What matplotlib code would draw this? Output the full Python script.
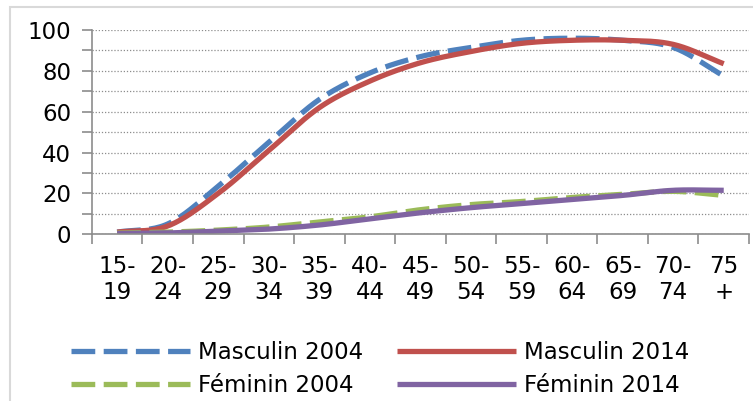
import numpy as np
import matplotlib
matplotlib.use("Agg")
import matplotlib.pyplot as plt
from matplotlib.ticker import MultipleLocator

categories = ["15-\n19", "20-\n24", "25-\n29", "30-\n34", "35-\n39", "40-\n44", "45-\n49",
              "50-\n54", "55-\n59", "60-\n64", "65-\n69", "70-\n74", "75\n+"]
masculin_2004 = [1, 5, 23.5, 45, 66, 79, 87, 91.5, 95, 96, 95, 91.5, 77.5]
masculin_2014 = [1, 4, 20, 41, 62, 75, 84, 89.5, 93.5, 95, 95, 93, 83.5]
feminin_2004 = [0.5, 1, 2, 3.5, 6, 8.5, 12, 14.5, 16, 18, 19.5, 21, 19]
feminin_2014 = [0.3, 0.6, 1.5, 2.5, 4.5, 7.5, 10.5, 13, 15, 17, 19, 21.5, 21.5]


def smooth(y, n=20):
    # Catmull-Rom curve through the points, like Excel's smoothed lines
    y = np.asarray(y, dtype=float)
    x = np.arange(len(y), dtype=float)
    px = np.concatenate([[2 * x[0] - x[1]], x, [2 * x[-1] - x[-2]]])
    py = np.concatenate([[2 * y[0] - y[1]], y, [2 * y[-1] - y[-2]]])
    xs, ys = [], []
    t = np.linspace(0, 1, n, endpoint=False)
    for i in range(1, len(px) - 2):
        for arr, out in ((px, xs), (py, ys)):
            p0, p1, p2, p3 = arr[i - 1], arr[i], arr[i + 1], arr[i + 2]
            out.extend(0.5 * (2 * p1 + (-p0 + p2) * t + (2 * p0 - 5 * p1 + 4 * p2 - p3) * t ** 2
                              + (-p0 + 3 * p1 - 3 * p2 + p3) * t ** 3))
    xs.append(x[-1])
    ys.append(y[-1])
    return np.array(xs), np.array(ys)


fig = plt.figure(figsize=(7.53, 4.01), dpi=100)
ax = fig.add_axes([0.122, 0.416, 0.8727, 0.509])

dash = (0, (4.5, 1.6))
series = [
    (masculin_2004, "Masculin 2004", "#4F81BD", dash),
    (masculin_2014, "Masculin 2014", "#C0504D", "-"),
    (feminin_2004, "Féminin 2004", "#9BBB59", dash),
    (feminin_2014, "Féminin 2014", "#8064A2", "-"),
]
lines = {}
for vals, label, color, ls in series:
    sx, sy = smooth(vals)
    lines[label], = ax.plot(sx, sy, color=color, linestyle=ls, linewidth=3.8, label=label,
                            solid_capstyle="butt", dash_capstyle="butt")

ax.set_xlim(-0.5, len(categories) - 0.5)
ax.set_ylim(0, 100)
ax.yaxis.set_major_locator(MultipleLocator(20))
ax.yaxis.set_minor_locator(MultipleLocator(10))
ax.grid(True, which="both", axis="y", color="#8c8c8c", linestyle=(0, (1, 1.5)), linewidth=0.9)
ax.set_axisbelow(True)

ax.set_xticks(np.arange(len(categories)))
ax.set_xticklabels(categories, fontsize=16.5, linespacing=1.15)
ax.set_xticks(np.arange(len(categories) + 1) - 0.5, minor=True)
ax.tick_params(axis="x", which="major", length=0, pad=15)
ax.tick_params(axis="x", which="minor", length=7, color="#8c8c8c", width=1.2)
ax.tick_params(axis="y", which="both", length=7, color="#8c8c8c", width=1.2, labelsize=16.5, pad=8)

for side in ("top", "right"):
    ax.spines[side].set_visible(False)
for side in ("left", "bottom"):
    ax.spines[side].set_color("#8c8c8c")
    ax.spines[side].set_linewidth(1.2)

# Excel fills the legend row by row
order = ["Masculin 2004", "Féminin 2004", "Masculin 2014", "Féminin 2014"]
fig.legend([lines[k] for k in order], order, loc="lower center", bbox_to_anchor=(0.505, -0.03),
           ncol=2, frameon=False, fontsize=16.5, handlelength=5.2, columnspacing=1.45,
           handletextpad=0.35, labelspacing=0.45, borderpad=0.2)

fig.patches.append(plt.Rectangle((10 / 753, -0.1), 1.2, 1.1 - 7 / 401, transform=fig.transFigure,
                                 fill=False, edgecolor="#d9d9d9", linewidth=1.5))

fig.savefig("out.png", dpi=100)
